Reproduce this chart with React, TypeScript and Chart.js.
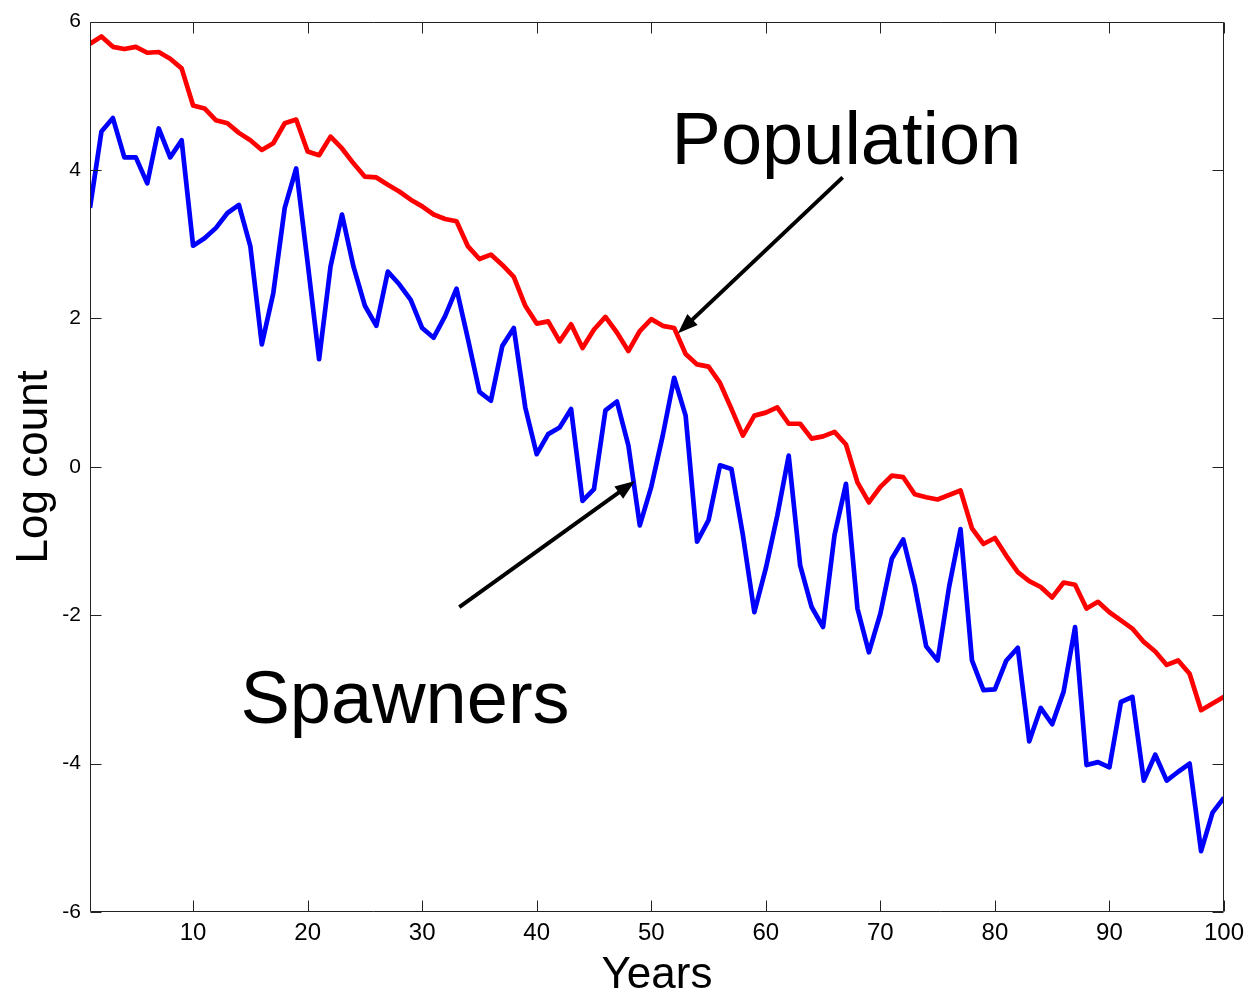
import React, { useEffect, useRef } from 'react';
import { Chart, registerables } from 'chart.js';

Chart.register(...registerables);

// Simulation years on the x axis
const YEARS: number[] = Array.from({ length: 100 }, (_, i) => i + 1);

// Log count of the whole population, one value per year
const POPULATION: number[] = [
  5.70, 5.80, 5.66, 5.63, 5.66, 5.58, 5.59, 5.50, 5.37, 4.87,
  4.83, 4.67, 4.63, 4.50, 4.40, 4.27, 4.36, 4.63, 4.68, 4.25,
  4.20, 4.45, 4.29, 4.09, 3.91, 3.90, 3.80, 3.71, 3.60, 3.51,
  3.40, 3.34, 3.31, 2.97, 2.80, 2.86, 2.72, 2.56, 2.17, 1.93,
  1.96, 1.69, 1.92, 1.60, 1.85, 2.02, 1.81, 1.56, 1.83, 1.99,
  1.90, 1.87, 1.52, 1.38, 1.35, 1.13, 0.78, 0.42, 0.69, 0.73,
  0.80, 0.58, 0.58, 0.38, 0.41, 0.47, 0.30, -0.21, -0.48, -0.27,
  -0.12, -0.14, -0.37, -0.41, -0.44, -0.38, -0.32, -0.83, -1.04, -0.96,
  -1.20, -1.42, -1.54, -1.62, -1.76, -1.56, -1.59, -1.91, -1.82, -1.96,
  -2.07, -2.18, -2.36, -2.49, -2.67, -2.61, -2.79, -3.28, -3.19, -3.10,
];

// Log count of spawners, one value per year
const SPAWNERS: number[] = [
  3.49, 4.52, 4.70, 4.17, 4.17, 3.82, 4.56, 4.17, 4.40, 2.98,
  3.08, 3.22, 3.42, 3.53, 2.97, 1.65, 2.34, 3.49, 4.02, 2.75,
  1.45, 2.70, 3.40, 2.70, 2.17, 1.90, 2.63, 2.46, 2.25, 1.87,
  1.74, 2.03, 2.40, 1.72, 1.01, 0.89, 1.63, 1.87, 0.80, 0.17,
  0.44, 0.53, 0.78, -0.46, -0.30, 0.76, 0.88, 0.29, -0.79, -0.27,
  0.42, 1.20, 0.69, -1.01, -0.72, 0.02, -0.03, -0.92, -1.96, -1.37,
  -0.66, 0.15, -1.33, -1.89, -2.16, -0.92, -0.23, -1.91, -2.50, -1.98,
  -1.24, -0.98, -1.60, -2.42, -2.61, -1.62, -0.84, -2.61, -3.01, -3.00,
  -2.61, -2.44, -3.70, -3.25, -3.47, -3.03, -2.16, -4.02, -3.98, -4.05,
  -3.17, -3.10, -4.23, -3.88, -4.23, -4.11, -4.00, -5.18, -4.66, -4.46,
];

const X_TICKS: number[] = [10, 20, 30, 40, 50, 60, 70, 80, 90, 100];
const Y_TICKS: number[] = [-6, -4, -2, 0, 2, 4, 6];

// Callout labels and their arrows, in data units
const NOTE_LABELS: string[] = ['Population', 'Spawners'];
const NOTE_TEXT_X: number[] = [67.04, 28.5];
const NOTE_TEXT_Y: number[] = [4.08, -3.45];
const ARROW_FROM_X: number[] = [66.71, 33.24];
const ARROW_FROM_Y: number[] = [3.9, -1.89];
const ARROW_TO_X: number[] = [52.33, 48.58];
const ARROW_TO_Y: number[] = [1.8, -0.19];

const FONT = '"Liberation Sans", Arial, Helvetica, sans-serif';

const framePlugin = {
  id: 'frameTicksNotes',
  afterDatasetsDraw(chart: any) {
    const { ctx, chartArea, scales } = chart;
    const { left, right, top, bottom } = chartArea;
    const xs = scales.x;
    const ys = scales.y;
    const tick = 11;
    ctx.save();
    ctx.strokeStyle = '#222';
    ctx.lineWidth = 1;
    const L = Math.round(left) + 0.5;
    const R = Math.round(right) - 0.5;
    const T = Math.round(top) + 0.5;
    const B = Math.round(bottom) - 0.5;
    ctx.beginPath();
    ctx.rect(L, T, R - L, B - T);
    for (const v of X_TICKS) {
      const px = Math.round(xs.getPixelForValue(v)) + 0.5;
      ctx.moveTo(px, B);
      ctx.lineTo(px, B - tick);
      ctx.moveTo(px, T);
      ctx.lineTo(px, T + tick);
    }
    for (const v of Y_TICKS) {
      const py = Math.round(ys.getPixelForValue(v)) + 0.5;
      ctx.moveTo(L, py);
      ctx.lineTo(L + tick, py);
      ctx.moveTo(R, py);
      ctx.lineTo(R - tick, py);
    }
    ctx.stroke();

    // callouts
    ctx.fillStyle = '#000';
    ctx.strokeStyle = '#000';
    ctx.font = `74px ${FONT}`;
    ctx.textAlign = 'center';
    ctx.textBaseline = 'alphabetic';
    NOTE_LABELS.forEach((label, i) => {
      ctx.fillText(label, xs.getPixelForValue(NOTE_TEXT_X[i]), ys.getPixelForValue(NOTE_TEXT_Y[i]));
      const x0 = xs.getPixelForValue(ARROW_FROM_X[i]);
      const y0 = ys.getPixelForValue(ARROW_FROM_Y[i]);
      const x1 = xs.getPixelForValue(ARROW_TO_X[i]);
      const y1 = ys.getPixelForValue(ARROW_TO_Y[i]);
      const ang = Math.atan2(y1 - y0, x1 - x0);
      const headLen = 20;
      const headHalf = 7.5;
      const bx = x1 - headLen * Math.cos(ang);
      const by = y1 - headLen * Math.sin(ang);
      ctx.lineWidth = 4;
      ctx.lineCap = 'butt';
      ctx.beginPath();
      ctx.moveTo(x0, y0);
      ctx.lineTo(bx + 2 * Math.cos(ang), by + 2 * Math.sin(ang));
      ctx.stroke();
      ctx.beginPath();
      ctx.moveTo(x1, y1);
      ctx.lineTo(bx + headHalf * Math.sin(ang), by - headHalf * Math.cos(ang));
      ctx.lineTo(bx - headHalf * Math.sin(ang), by + headHalf * Math.cos(ang));
      ctx.closePath();
      ctx.fill();
    });
    ctx.restore();
  },
};

export default function App() {
  const canvasRef = useRef<HTMLCanvasElement | null>(null);

  useEffect(() => {
    if (!canvasRef.current) return;
    const chart = new Chart(canvasRef.current, {
      type: 'line',
      data: {
        datasets: [
          {
            label: 'Population',
            data: YEARS.map((x, i) => ({ x, y: POPULATION[i] })),
            borderColor: '#ff0000',
            borderWidth: 4.7,
            pointRadius: 0,
            tension: 0,
            borderJoinStyle: 'round',
          },
          {
            label: 'Spawners',
            data: YEARS.map((x, i) => ({ x, y: SPAWNERS[i] })),
            borderColor: '#0000ff',
            borderWidth: 4.7,
            pointRadius: 0,
            tension: 0,
            borderJoinStyle: 'round',
          },
        ],
      },
      options: {
        responsive: false,
        animation: false,
        events: [],
        layout: { padding: { left: 0, right: 27, top: 19, bottom: 0 } },
        plugins: {
          legend: { display: false },
          tooltip: { enabled: false },
        },
        scales: {
          x: {
            type: 'linear',
            min: 1,
            max: 100,
            afterBuildTicks: (s: any) => {
              s.ticks = X_TICKS.map((value) => ({ value }));
            },
            afterFit: (s: any) => {
              s.height = 85;
            },
            grid: { display: false, drawTicks: false },
            border: { display: false },
            ticks: {
              color: '#000',
              font: { family: FONT, size: 24 },
              padding: 7,
              maxRotation: 0,
              autoSkip: false,
            },
            title: {
              display: true,
              text: 'Years',
              color: '#000',
              font: { family: FONT, size: 44, lineHeight: 0.9 },
              padding: { top: 0, bottom: 1.4 },
            },
          },
          y: {
            type: 'linear',
            min: -6,
            max: 6,
            afterBuildTicks: (s: any) => {
              s.ticks = Y_TICKS.map((value) => ({ value }));
            },
            afterFit: (s: any) => {
              s.width = 90;
            },
            grid: { display: false, drawTicks: false },
            border: { display: false },
            ticks: {
              color: '#000',
              font: { family: FONT, size: 21 },
              padding: 9,
              autoSkip: false,
            },
            title: {
              display: true,
              text: 'Log count',
              color: '#000',
              font: { family: FONT, size: 44, lineHeight: 1 },
              padding: { top: 13, bottom: 0 },
            },
          },
        },
      },
      plugins: [framePlugin],
    });
    return () => chart.destroy();
  }, []);

  return (
    <div style={{ position: 'absolute', left: 0, top: 0, width: 1251, height: 997, background: '#fff' }}>
      <canvas ref={canvasRef} width={1251} height={997} style={{ display: 'block' }} />
    </div>
  );
}
